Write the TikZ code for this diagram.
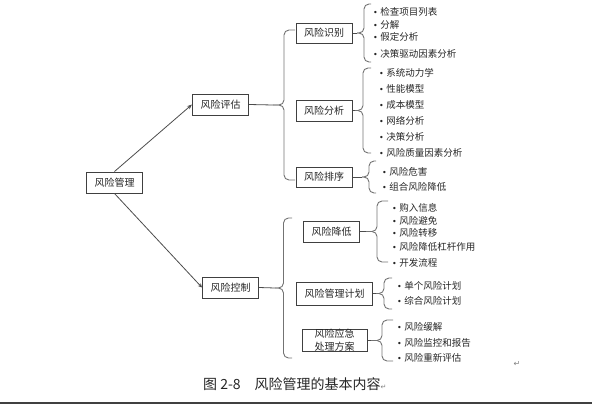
\documentclass[tikz,border=0pt]{standalone}
\usepackage{fontspec}
\setmainfont{Noto Sans CJK SC}
\newfontfamily\symfont{DejaVu Sans}
\usetikzlibrary{arrows.meta, positioning, calc}

\newcommand\dotmark{{\symfont\fontsize{8}{8}\selectfont •}\hspace{2.5pt}}

\begin{document}
\begin{tikzpicture}[x=1pt, y=-1pt, >=Stealth,
    box/.style={draw=black!75, line width=1pt, fill=white, inner xsep=8pt, inner ysep=0pt,
      minimum height=21pt, font=\fontsize{10}{12}\selectfont, text=black!85},
    item/.style={anchor=west, inner sep=0pt, font=\fontsize{9.5}{11}\selectfont, text=black!85},
    link/.style={draw=black!70, line width=0.8pt},
    curlline/.style={draw=black!55, line width=0.9pt, rounded corners=5pt}]

      \useasboundingbox (0,0) rectangle (592,407);

      % --- Brace macro: ends x, top y, bottom y, tip x ---
      \def\curl#1#2#3#4{%
        \draw[curlline] (#1,#2) -- ({(#1+#4)/2},#2) -- ({(#1+#4)/2},{(#2+#3)/2}) -- (#4,{(#2+#3)/2});
        \draw[curlline] (#1,#3) -- ({(#1+#4)/2},#3) -- ({(#1+#4)/2},{(#2+#3)/2}) -- (#4,{(#2+#3)/2});
      }

      % --- Main Boxes ---
      \node[box] (mgmt) at (114.5,182.5) {风险管理};
      \node[box] (eval) at (220.5,104.5) {风险评估};
      \node[box] (ctrl) at (230.5,287.5) {风险控制};

      % --- Assessment Boxes ---
      \node[box, minimum height=20pt] (ident) at (324,33) {风险识别};
      \node[box] (anal) at (324,110.5) {风险分析};
      \node[box, minimum height=20pt] (rank) at (324,177) {风险排序};

      % --- Control Boxes ---
      \node[box] (reduce) at (331.5,231.5) {风险降低};
      \node[box, minimum height=23pt] (plan) at (334.5,293.5) {风险管理计划};
      \node[box, minimum width=65pt, align=center, font=\fontsize{10}{13}\selectfont] (emerg) at (334.5,340.5) {风险应急\\处理方案};

      % --- Arrows from the root ---
      \draw[link, -{Stealth[length=5pt, width=4pt]}] (mgmt.north) -- (eval.west);
      \draw[link, -{Stealth[length=4pt, width=4pt]}] (mgmt.south) -- (ctrl.west);

      % --- Braces and their tips ---
      \coordinate (evaltip) at (273,105);
      \coordinate (ctrltip) at (275,288);
      \coordinate (identtip) at (357,33);
      \coordinate (analtip) at (355,110.5);
      \coordinate (ranktip) at (362,177);
      \coordinate (reducetip) at (366,231.5);
      \coordinate (plantip) at (376,293.5);
      \coordinate (emergtip) at (371,340.5);

      \curl{295}{30}{180}{273}
      \curl{292}{218}{358}{275}
      \curl{371}{4}{62}{357}
      \curl{371}{68}{153}{355}
      \curl{376}{161}{193}{362}
      \curl{388}{201}{262}{366}
      \curl{392}{278}{309}{376}
      \curl{393}{320}{361}{371}

      \draw[link] (eval.east) -- (evaltip);
      \draw[link] (ctrl.east) -- (ctrltip);
      \draw[link] (ident.east) -- (identtip);
      \draw[link] (anal.east) -- (analtip);
      \draw[link] (rank.east) -- (ranktip);
      \draw[link] (reduce.east) -- (reducetip);
      \draw[link] (plan.east) -- (plantip);
      \draw[link] (emerg.east) -- (emergtip);

      % --- Item Lists ---
      \foreach \lbl/\y [count=\i] in {检查项目列表/12, 分解/25, 假定分析/37, 决策驱动因素分析/54}
        \node[item] (identitem\i) at (373,\y) {\dotmark\lbl};

      \foreach \lbl/\y [count=\i] in {系统动力学/73, 性能模型/89, 成本模型/105, 网络分析/121, 决策分析/137, 风险质量因素分析/153}
        \node[item] (analitem\i) at (379,\y) {\dotmark\lbl};

      \foreach \lbl/\y [count=\i] in {风险危害/172, 组合风险降低/187}
        \node[item] (rankitem\i) at (382,\y) {\dotmark\lbl};

      \foreach \lbl/\y [count=\i] in {购入信息/208, 风险避免/221, 风险转移/233, 风险降低杠杆作用/247, 开发流程/263}
        \node[item] (reduceitem\i) at (392,\y) {\dotmark\lbl};

      \foreach \lbl/\y [count=\i] in {单个风险计划/286, 综合风险计划/301}
        \node[item] (planitem\i) at (397,\y) {\dotmark\lbl};

      \foreach \lbl/\y [count=\i] in {风险缓解/327, 风险监控和报告/343, 风险重新评估/358}
        \node[item] (emergitem\i) at (397,\y) {\dotmark\lbl};

      % --- Caption and page line ---
      \node[anchor=west, inner sep=0pt, font=\fontsize{14}{16}\selectfont, text=black!85] (caption) at (203,384)
        {图 2-8\hspace{14pt}风险管理的基本内容{\symfont\fontsize{7}{8}\selectfont\color{black!50}↵}};
      \node[inner sep=0pt, font=\symfont\fontsize{8}{9}\selectfont, text=black!50] (parmark) at (517,364) {↵};
      \draw[line width=1.6pt, black!75] (0,403) -- (592,403);

\end{tikzpicture}
\end{document}
